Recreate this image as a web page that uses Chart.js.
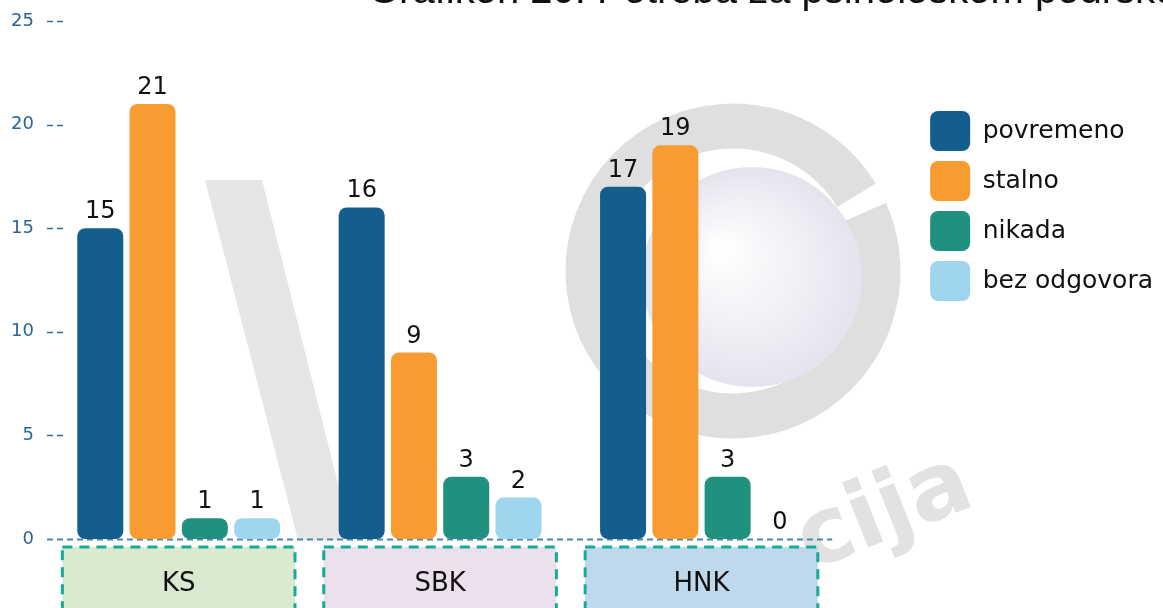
<!DOCTYPE html>
<html>
<head>
<meta charset="utf-8">
<script src="https://cdn.jsdelivr.net/npm/chart.js@4.4.1/dist/chart.umd.min.js"></script>
<style>
  html, body { margin: 0; padding: 0; background: #fff; }
  #wrap { width: 1163px; height: 608px; position: relative; }
</style>
</head>
<body>
<div id="wrap"><canvas id="chart"></canvas></div>
<script>
const TITLE = "Grafikon 20: Potreba za psihološkom podrškom";
const categories = ["KS", "SBK", "HNK"];
const seriesNames = ["povremeno", "stalno", "nikada", "bez odgovora"];
const povremeno = [15, 16, 17];
const stalno = [21, 9, 19];
const nikada = [1, 3, 3];
const bezOdgovora = [1, 2, 0];
const seriesColors = ["#135e8c", "#f89b31", "#20907f", "#9fd5ee"];
const boxColors = ["#d9ead0", "#ede0ee", "#bed9ec"];

const FONT = "'DejaVu Sans', sans-serif";

// faint logo behind the chart
const watermark = {
  id: "watermark",
  beforeDraw(chart) {
    const ctx = chart.ctx;
    ctx.save();
    ctx.fillStyle = "#e6e6e6";
    ctx.beginPath();
    ctx.moveTo(205, 180);
    ctx.lineTo(262, 180);
    ctx.lineTo(352, 540);
    ctx.lineTo(298, 540);
    ctx.closePath();
    ctx.fill();
    ctx.strokeStyle = "#dfdfdf";
    ctx.lineWidth = 45;
    ctx.beginPath();
    ctx.arc(733, 271, 145, -0.42, -0.55 + Math.PI * 2);
    ctx.stroke();
    const g = ctx.createRadialGradient(720, 250, 5, 752, 277, 110);
    g.addColorStop(0, "#ffffff");
    g.addColorStop(1, "#e4e4ee");
    ctx.fillStyle = g;
    ctx.beginPath();
    ctx.arc(752, 277, 110, 0, Math.PI * 2);
    ctx.fill();
    ctx.translate(885, 515);
    ctx.rotate(-0.38);
    ctx.fillStyle = "#e2e2e2";
    ctx.font = "bold 92px 'DejaVu Sans'";
    ctx.textAlign = "center";
    ctx.textBaseline = "middle";
    ctx.fillText("cija", 0, 0);
    ctx.restore();
  },
};

// dashed boxes behind the category labels
const categoryBoxes = {
  id: "categoryBoxes",
  beforeDraw(chart) {
    const { ctx, chartArea } = chart;
    const x = chart.scales.x;
    const half = (x.width / categories.length) * 0.445;
    ctx.save();
    categories.forEach((c, i) => {
      const cx = x.getPixelForTick(i);
      const top = chartArea.bottom + 8;
      ctx.fillStyle = boxColors[i];
      ctx.fillRect(cx - half, top, half * 2, 80);
      ctx.setLineDash([10, 7]);
      ctx.lineWidth = 3;
      ctx.strokeStyle = "#17a999";
      ctx.strokeRect(cx - half, top, half * 2, 80);
    });
    ctx.restore();
  },
};

// zero line and the short dashes next to the y labels
const axisDashes = {
  id: "axisDashes",
  beforeDatasetsDraw(chart) {
    const { ctx, chartArea } = chart;
    const y = chart.scales.y;
    ctx.save();
    ctx.setLineDash([6, 4]);
    y.ticks.forEach((t) => {
      const py = Math.round(y.getPixelForValue(t.value)) + 0.5;
      ctx.beginPath();
      if (t.value === 0) {
        ctx.strokeStyle = "#4f86ad";
        ctx.lineWidth = 2;
        ctx.moveTo(chartArea.left - 1, py);
        ctx.lineTo(chartArea.right, py);
      } else {
        ctx.strokeStyle = "#2f6f9c";
        ctx.lineWidth = 1.5;
        ctx.moveTo(chartArea.left - 1, py);
        ctx.lineTo(chartArea.left + 16, py);
      }
      ctx.stroke();
    });
    ctx.restore();
  },
};

const valueLabels = {
  id: "valueLabels",
  afterDatasetsDraw(chart) {
    const ctx = chart.ctx;
    ctx.save();
    ctx.font = "24px " + FONT;
    ctx.fillStyle = "#111";
    ctx.textAlign = "center";
    ctx.textBaseline = "alphabetic";
    chart.data.datasets.forEach((ds, di) => {
      chart.getDatasetMeta(di).data.forEach((bar, i) => {
        ctx.fillText(String(ds.data[i]), bar.x, bar.y - 10);
      });
    });
    ctx.restore();
  },
};

const topTitle = {
  id: "topTitle",
  afterDraw(chart) {
    const ctx = chart.ctx;
    ctx.save();
    ctx.font = "40px 'Liberation Sans', Arial, sans-serif";
    ctx.fillStyle = "#111";
    ctx.textBaseline = "alphabetic";
    ctx.fillText(TITLE, 368, 3);
    ctx.restore();
  },
};

const seriesData = [povremeno, stalno, nikada, bezOdgovora];

new Chart(document.getElementById("chart"), {
  type: "bar",
  data: {
    labels: categories,
    datasets: seriesNames.map((name, i) => ({
      label: name,
      data: seriesData[i],
      backgroundColor: seriesColors[i],
      borderWidth: 0,
      borderRadius: 8,
      borderSkipped: false,
      categoryPercentage: 0.8,
      barPercentage: 0.88,
    })),
  },
  options: {
    responsive: true,
    maintainAspectRatio: false,
    animation: false,
    layout: { padding: { top: 21 } },
    scales: {
      x: {
        grid: { display: false },
        border: { display: false },
        ticks: { color: "#111", font: { size: 26, family: FONT }, padding: 22 },
        afterFit(axis) { axis.height = 69; },
      },
      y: {
        min: 0,
        max: 25,
        grid: { display: false },
        border: { display: false },
        ticks: { stepSize: 5, color: "#2b6595", font: { size: 18, family: FONT }, padding: 6 },
        afterFit(axis) { axis.width = 48; },
      },
      gap: {
        type: "linear",
        position: "right",
        grid: { display: false },
        border: { display: false },
        ticks: { display: false },
        afterFit(axis) { axis.width = 88; },
      },
    },
    plugins: {
      tooltip: { enabled: false },
      legend: {
        position: "right",
        align: "start",
        maxWidth: 320,
        title: { display: true, text: " ", font: { size: 10 }, padding: { top: 0, bottom: 68 } },
        labels: {
          boxWidth: 40,
          boxHeight: 40,
          padding: 10,
          useBorderRadius: true,
          borderRadius: 8,
          color: "#111",
          font: { size: 25, family: FONT },
        },
      },
    },
  },
  plugins: [watermark, categoryBoxes, axisDashes, valueLabels, topTitle],
});
</script>
</body>
</html>
